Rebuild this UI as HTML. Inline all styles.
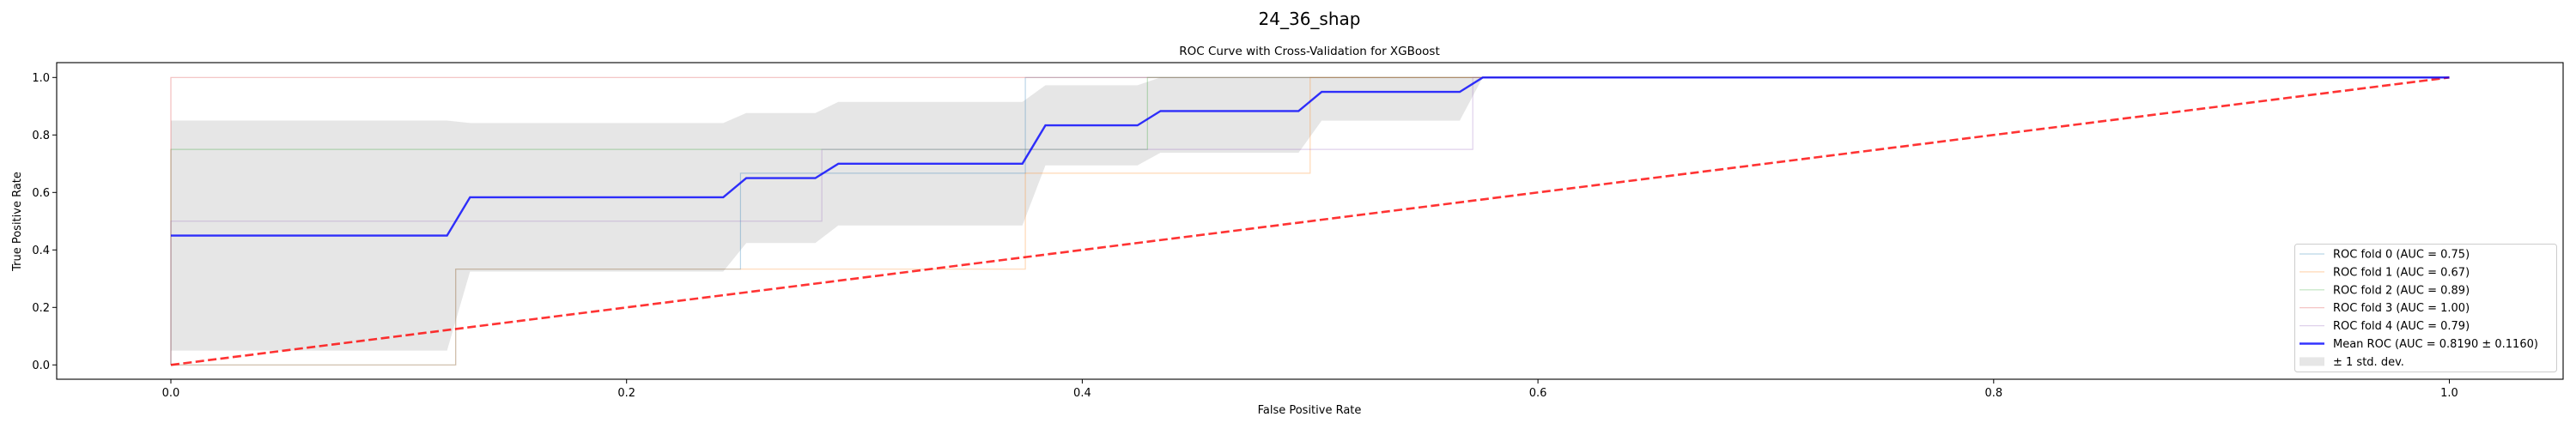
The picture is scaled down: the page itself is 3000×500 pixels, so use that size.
<!DOCTYPE html>
<html><head><meta charset="utf-8"><style>
html,body{margin:0;padding:0;background:#fff;}
svg{display:block;font-family:"DejaVu Sans","Liberation Sans",sans-serif;}
</style></head><body>
<svg id="chart" width="3000" height="500" viewBox="0 0 3000 500" xmlns="http://www.w3.org/2000/svg">
<rect x="0" y="0" width="3000" height="500" fill="#fff"/>
<text x="1525" y="29" font-size="20" text-anchor="middle" fill="#000">24_36_shap</text>
<text x="1525" y="64" font-size="13.5" text-anchor="middle" fill="#000">ROC Curve with Cross-Validation for XGBoost</text>
<g id="plot"></g>
<text x="1525" y="482" font-size="13" text-anchor="middle" fill="#000">False Positive Rate</text>
<text x="24" y="258" font-size="13" text-anchor="middle" fill="#000" transform="rotate(-90 24 258)">True Positive Rate</text>
</svg>
<script>
const foldFpr0=[0,0,0.125,0.125,0.25,0.25,0.375,0.375,1];
const foldTpr0=[0,0,0,0.333,0.333,0.667,0.667,1,1];
const foldFpr1=[0,0,0.125,0.125,0.375,0.375,0.5,0.5,1];
const foldTpr1=[0,0,0,0.333,0.333,0.667,0.667,1,1];
const foldFpr2=[0,0,0.4286,0.4286,1];
const foldTpr2=[0,0.75,0.75,1,1];
const foldFpr3=[0,0,1];
const foldTpr3=[0,1,1];
const foldFpr4=[0,0,0.2857,0.2857,0.5714,0.5714,1];
const foldTpr4=[0,0.5,0.5,0.75,0.75,1,1];
const foldColors=["#1f77b4","#ff7f0e","#2ca02c","#d62728","#9467bd"];
const legendLabels=["ROC fold 0 (AUC = 0.75)","ROC fold 1 (AUC = 0.67)","ROC fold 2 (AUC = 0.89)","ROC fold 3 (AUC = 1.00)","ROC fold 4 (AUC = 0.79)","Mean ROC (AUC = 0.8190 \u00b1 0.1160)","\u00b1 1 std. dev."];
const xTicks=[0,0.2,0.4,0.6,0.8,1.0];
const yTicks=[0,0.2,0.4,0.6,0.8,1.0];
const xTickLabels=["0.0","0.2","0.4","0.6","0.8","1.0"];
const yTickLabels=["0.0","0.2","0.4","0.6","0.8","1.0"];

const NS="http://www.w3.org/2000/svg";
const L=66,R=2985,T=73,B=442;
function xs(v){return 199+v*2653.5;}
function ys(v){return 425.3-v*335;}
const g=document.getElementById('plot');
function mk(tag,attrs){const e=document.createElementNS(NS,tag);for(const k in attrs)e.setAttribute(k,attrs[k]);g.appendChild(e);return e;}
function interp(x,xp,fp){let j=-1;for(let i=0;i<xp.length;i++){if(xp[i]<=x)j=i;}
 if(j<0)return fp[0]; if(j>=xp.length-1)return fp[fp.length-1];
 const t=(x-xp[j])/(xp[j+1]-xp[j]); return fp[j]+t*(fp[j+1]-fp[j]);}
const folds=[[foldFpr0,foldTpr0],[foldFpr1,foldTpr1],[foldFpr2,foldTpr2],[foldFpr3,foldTpr3],[foldFpr4,foldTpr4]];
const grid=[];for(let i=0;i<100;i++)grid.push(i/99);
const meanT=[],upT=[],loT=[];
grid.forEach(x=>{const v=folds.map(f=>interp(x,f[0],f[1]));const m=v.reduce((a,b)=>a+b,0)/v.length;
 const s=Math.sqrt(v.reduce((a,b)=>a+(b-m)*(b-m),0)/v.length);
 meanT.push(m);upT.push(Math.min(1,m+s));loT.push(Math.max(0,m-s));});

// std band
let d='';grid.forEach((x,i)=>{d+=(i?'L':'M')+xs(x).toFixed(1)+' '+ys(upT[i]).toFixed(1);});
for(let i=grid.length-1;i>=0;i--)d+='L'+xs(grid[i]).toFixed(1)+' '+ys(loT[i]).toFixed(1);
let band=mk('path',{d:d+'Z',fill:'#808080','fill-opacity':'0.2',stroke:'none'});


// folds
folds.forEach((f,k)=>{const pts=f[0].map((x,i)=>xs(x).toFixed(1)+','+ys(f[1][i]).toFixed(1)).join(' ');
 const p=mk('polyline',{points:pts,fill:'none',stroke:foldColors[k],'stroke-opacity':'0.3','stroke-width':'1.2'});
 
 });
// chance
let ch=mk('line',{x1:xs(0),y1:ys(0),x2:xs(1),y2:ys(1),stroke:'red','stroke-opacity':'0.8','stroke-width':'2.6','stroke-dasharray':'10 4.5'});


// mean
const mp=grid.map((x,i)=>xs(x).toFixed(1)+','+ys(meanT[i]).toFixed(1)).join(' ');
let ml=mk('polyline',{points:mp,fill:'none',stroke:'blue','stroke-opacity':'0.8','stroke-width':'2.4'});


// frame
let fr=mk('rect',{x:L,y:T,width:R-L,height:B-T,fill:'none',stroke:'#000','stroke-width':'1.1'});


// ticks
xTicks.forEach((v,i)=>{const x=xs(v);
 const t=mk('line',{x1:x,y1:B,x2:x,y2:B+5,stroke:'#000','stroke-width':'1'});
 
 
 const lb=mk('text',{x:x,y:B+20,'font-size':'13','text-anchor':'middle',fill:'#000'});lb.textContent=xTickLabels[i];
 
 });
yTicks.forEach((v,i)=>{const y=ys(v);
 const t=mk('line',{x1:L-5,y1:y,x2:L,y2:y,stroke:'#000','stroke-width':'1'});
 
 
 const lb=mk('text',{x:L-8,y:y+4.5,'font-size':'13','text-anchor':'end',fill:'#000'});lb.textContent=yTickLabels[i];
 
 });
// legend
let lg=mk('rect',{x:2672.5,y:284.5,width:305,height:149,rx:3,fill:'#fff','fill-opacity':'0.8',stroke:'#ccc','stroke-width':'1'});


legendLabels.forEach((s,i)=>{const y=296+i*20.9;
 if(i<5){const h=mk('line',{x1:2678,y1:y,x2:2707,y2:y,stroke:foldColors[i],'stroke-opacity':'0.3','stroke-width':'1.2'});
  
  }
 else if(i==5){const h=mk('line',{x1:2678,y1:y,x2:2707,y2:y,stroke:'blue','stroke-opacity':'0.8','stroke-width':'2.4'});
  
  }
 else {const h=mk('rect',{x:2678,y:y-5,width:29,height:10,fill:'#808080','fill-opacity':'0.2'});
  
  }
 const tx=mk('text',{x:2717,y:y+4.5,'font-size':'13',fill:'#000'});tx.textContent=s;
 
 });
</script>
</body></html>
